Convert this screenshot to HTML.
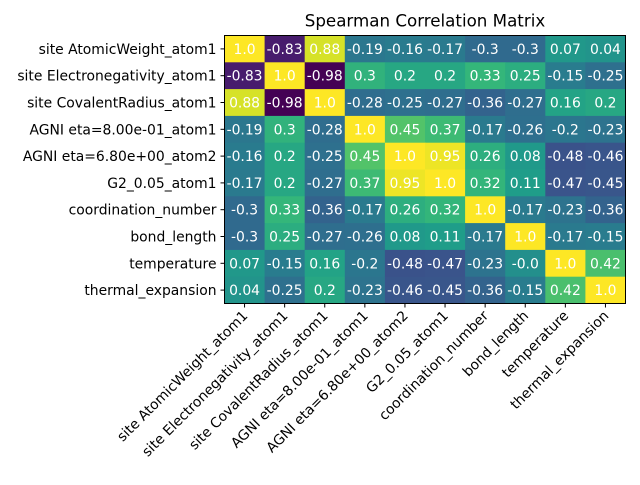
<!DOCTYPE html>
<html><head><meta charset="utf-8"><style>
body{margin:0;background:#fff;}
svg text{font-family:"DejaVu Sans","Liberation Sans",sans-serif;}
</style></head><body>
<svg id="c" width="640" height="480"></svg>
<script>
const labels=["site AtomicWeight_atom1","site Electronegativity_atom1","site CovalentRadius_atom1","AGNI eta=8.00e-01_atom1","AGNI eta=6.80e+00_atom2","G2_0.05_atom1","coordination_number","bond_length","temperature","thermal_expansion"];
const row0=[1.0,-0.83,0.88,-0.19,-0.16,-0.17,-0.3,-0.3,0.07,0.04];
const row1=[-0.83,1.0,-0.98,0.3,0.2,0.2,0.33,0.25,-0.15,-0.25];
const row2=[0.88,-0.98,1.0,-0.28,-0.25,-0.27,-0.36,-0.27,0.16,0.2];
const row3=[-0.19,0.3,-0.28,1.0,0.45,0.37,-0.17,-0.26,-0.2,-0.23];
const row4=[-0.16,0.2,-0.25,0.45,1.0,0.95,0.26,0.08,-0.48,-0.46];
const row5=[-0.17,0.2,-0.27,0.37,0.95,1.0,0.32,0.11,-0.47,-0.45];
const row6=[-0.3,0.33,-0.36,-0.17,0.26,0.32,1.0,-0.17,-0.23,-0.36];
const row7=[-0.3,0.25,-0.27,-0.26,0.08,0.11,-0.17,1.0,-0.17,-0.15];
const row8=[0.07,-0.15,0.16,-0.2,-0.48,-0.47,-0.23,-0.0,1.0,0.42];
const row9=[0.04,-0.25,0.2,-0.23,-0.46,-0.45,-0.36,-0.15,0.42,1.0];
const matrix=[row0,row1,row2,row3,row4,row5,row6,row7,row8,row9];
const NS="http://www.w3.org/2000/svg";
const svg=document.getElementById('c');
const L=224.5,T=35.5,W=401,H=268,n=labels.length,cw=W/n,ch=H/n;
const xs=i=>L+i*cw, ys=j=>T+j*ch;
const vir=[[68,1,84],[72,40,120],[62,74,137],[49,104,142],[38,130,142],[31,158,137],[53,183,121],[110,206,88],[181,222,43],[253,231,37]];
const vals=matrix.flat();const vmin=Math.min(...vals),vmax=Math.max(...vals);
function color(v){let t=(v-vmin)/(vmax-vmin)*(vir.length-1);let i=Math.min(Math.floor(t),vir.length-2),f=t-i;
return 'rgb('+vir[i].map((c,k)=>Math.round(c+(vir[i+1][k]-c)*f)).join(',')+')';}
function fmt(v){if(Object.is(v,-0))return "-0.0";if(Number.isInteger(v))return v.toFixed(1);return String(Math.round(v*100)/100);}
function mk(tag,attrs,parent){const e=document.createElementNS(NS,tag);for(const k in attrs)e.setAttribute(k,attrs[k]);(parent||svg).appendChild(e);return e;}
const FS=13.9;
for(let j=0;j<n;j++)for(let i=0;i<n;i++){
 const v=matrix[j][i];
 const r=mk('rect',{x:xs(i),y:ys(j),width:cw+0.5,height:ch+0.5,fill:color(v)});
 
 
 const t=mk('text',{x:xs(i)+cw/2,y:ys(j)+ch/2+5,'text-anchor':'middle','font-size':FS,fill:'#fff'});
 t.textContent=fmt(v);
 
 
}
mk('rect',{x:L,y:T,width:W,height:H,fill:'none',stroke:'#000','stroke-width':1});
for(let k=0;k<n;k++){
 mk('line',{x1:L-4,x2:L,y1:ys(k)+ch/2,y2:ys(k)+ch/2,stroke:'#000'});
 const yl=mk('text',{x:L-8,y:ys(k)+ch/2+5,'text-anchor':'end','font-size':FS,fill:'#000'});
 yl.textContent=labels[k];
 
 
 const cx=xs(k)+cw/2;
 mk('line',{x1:cx,x2:cx,y1:T+H,y2:T+H+4,stroke:'#000'});
 const xl=mk('text',{x:cx+4,y:T+H+13,'text-anchor':'end','font-size':FS,fill:'#000',transform:'rotate(-45 '+(cx+4)+' '+(T+H+13)+')'});
 xl.textContent=labels[k];
 
 
}
const title=mk('text',{x:L+W/2,y:T-9,'text-anchor':'middle','font-size':'16.7',fill:'#000'});
title.textContent='Spearman Correlation Matrix';


</script>
</body></html>
